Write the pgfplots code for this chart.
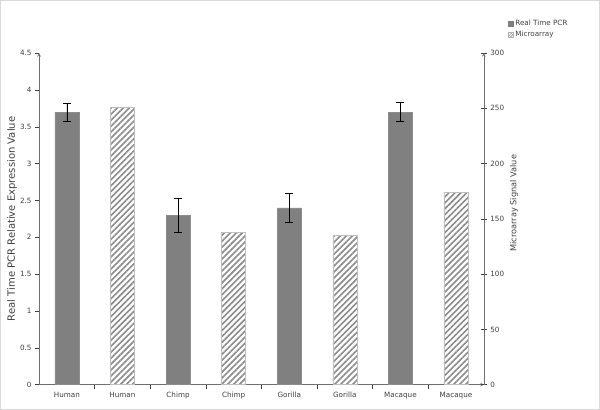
\documentclass[border=0pt]{standalone}
\usepackage{fontspec}
\setmainfont{DejaVu Sans}
\usepackage{pgfplots}
\pgfplotsset{compat=1.18}
\usetikzlibrary{patterns.meta}
\definecolor{barg}{HTML}{808080}
\definecolor{txt}{HTML}{404040}
\definecolor{axg}{HTML}{707070}
\definecolor{hatch}{HTML}{8C8C8C}
\tikzset{hatchbar/.style={pattern={Lines[angle=45,distance=4.2pt,line width=1.6pt]},pattern color=hatch,draw=black!25,line width=0.6pt}}
\begin{document}
\begin{tikzpicture}
\pgfplotsset{
  common/.style={
    scale only axis, width=444pt, height=331pt,
    at={(0pt,0pt)}, anchor=south west,
    xmin=-0.5, xmax=7.5, ymin=0,
    axis line style={-, draw=axg, line width=0.6pt},
    tick style={draw=txt, line width=0.5pt},
    ticklabel style={font=\fontsize{7.2}{8}\selectfont, text=txt},
    /pgf/number format/assume math mode=true,
    bar width=24pt,
  }
}
\begin{axis}[common,
  ymax=4.5, ytick={0,0.5,...,4.5},
  axis x line=bottom, axis y line=left,
  y tick label style={/pgf/number format/fixed},
  xtick={0,...,7},
  xticklabels={Human,Human,Chimp,Chimp,Gorilla,Gorilla,Macaque,Macaque},
  major x tick style={draw=none},
  minor xtick={0.5,1.5,...,6.5},
  minor x tick style={draw=txt},
  minor tick length=4pt,
  tick align=outside, major tick length=4pt,
  ylabel={Real Time PCR Relative Expression Value},
  ylabel style={at={(axis description cs:-0.0605,0.5)}, anchor=center, font=\fontsize{10}{11}\selectfont, text=txt},
  legend style={at={(1.054,1.1)}, anchor=north west, draw=none, fill=none,
    font=\fontsize{7.2}{8}\selectfont, text=txt, row sep=4pt, inner sep=0pt,
    nodes={inner xsep=1.5pt, inner ysep=0pt}},
  legend cell align=left,
]
\addplot[ybar, fill=barg, draw=barg!90,
  legend image code/.code={\fill[barg] (0pt,-2.6pt) rectangle (5.2pt,2.6pt);},
  error bars/.cd, y dir=both, y explicit,
  error bar style={black, line width=0.6pt},
  error mark options={rotate=90, mark size=4pt, black, line width=0.6pt}]
  coordinates {(0,3.7) +- (0,0.12) (2,2.3) +- (0,0.23) (4,2.4) +- (0,0.2) (6,3.7) +- (0,0.13)};
\addlegendentry{Real Time PCR}
\addlegendimage{legend image code/.code={\path[pattern={Lines[angle=45,distance=1.8pt,line width=0.6pt]},pattern color=hatch,draw=black!30] (0pt,-2.6pt) rectangle (5.2pt,2.6pt);}}
\addlegendentry{Microarray}
\end{axis}
\begin{axis}[common,
  ymax=300, ytick={0,50,...,300},
  axis x line=none, axis y line=right,
  xtick=\empty,
  tick align=center, major tick length=6pt,
  ylabel={Microarray Signal Value},
  ylabel style={at={(axis description cs:1.068,0.547)}, anchor=center, font=\fontsize{8.2}{9}\selectfont, text=txt},
]
\addplot[ybar, hatchbar] coordinates {(1,251) (3,137.8) (5,135) (7,174)};
\end{axis}
\pgfresetboundingbox
\draw[black!15, line width=0.8pt] (-38.6pt,-24.6pt) rectangle (559.6pt,383.6pt);
\end{tikzpicture}
\end{document}
